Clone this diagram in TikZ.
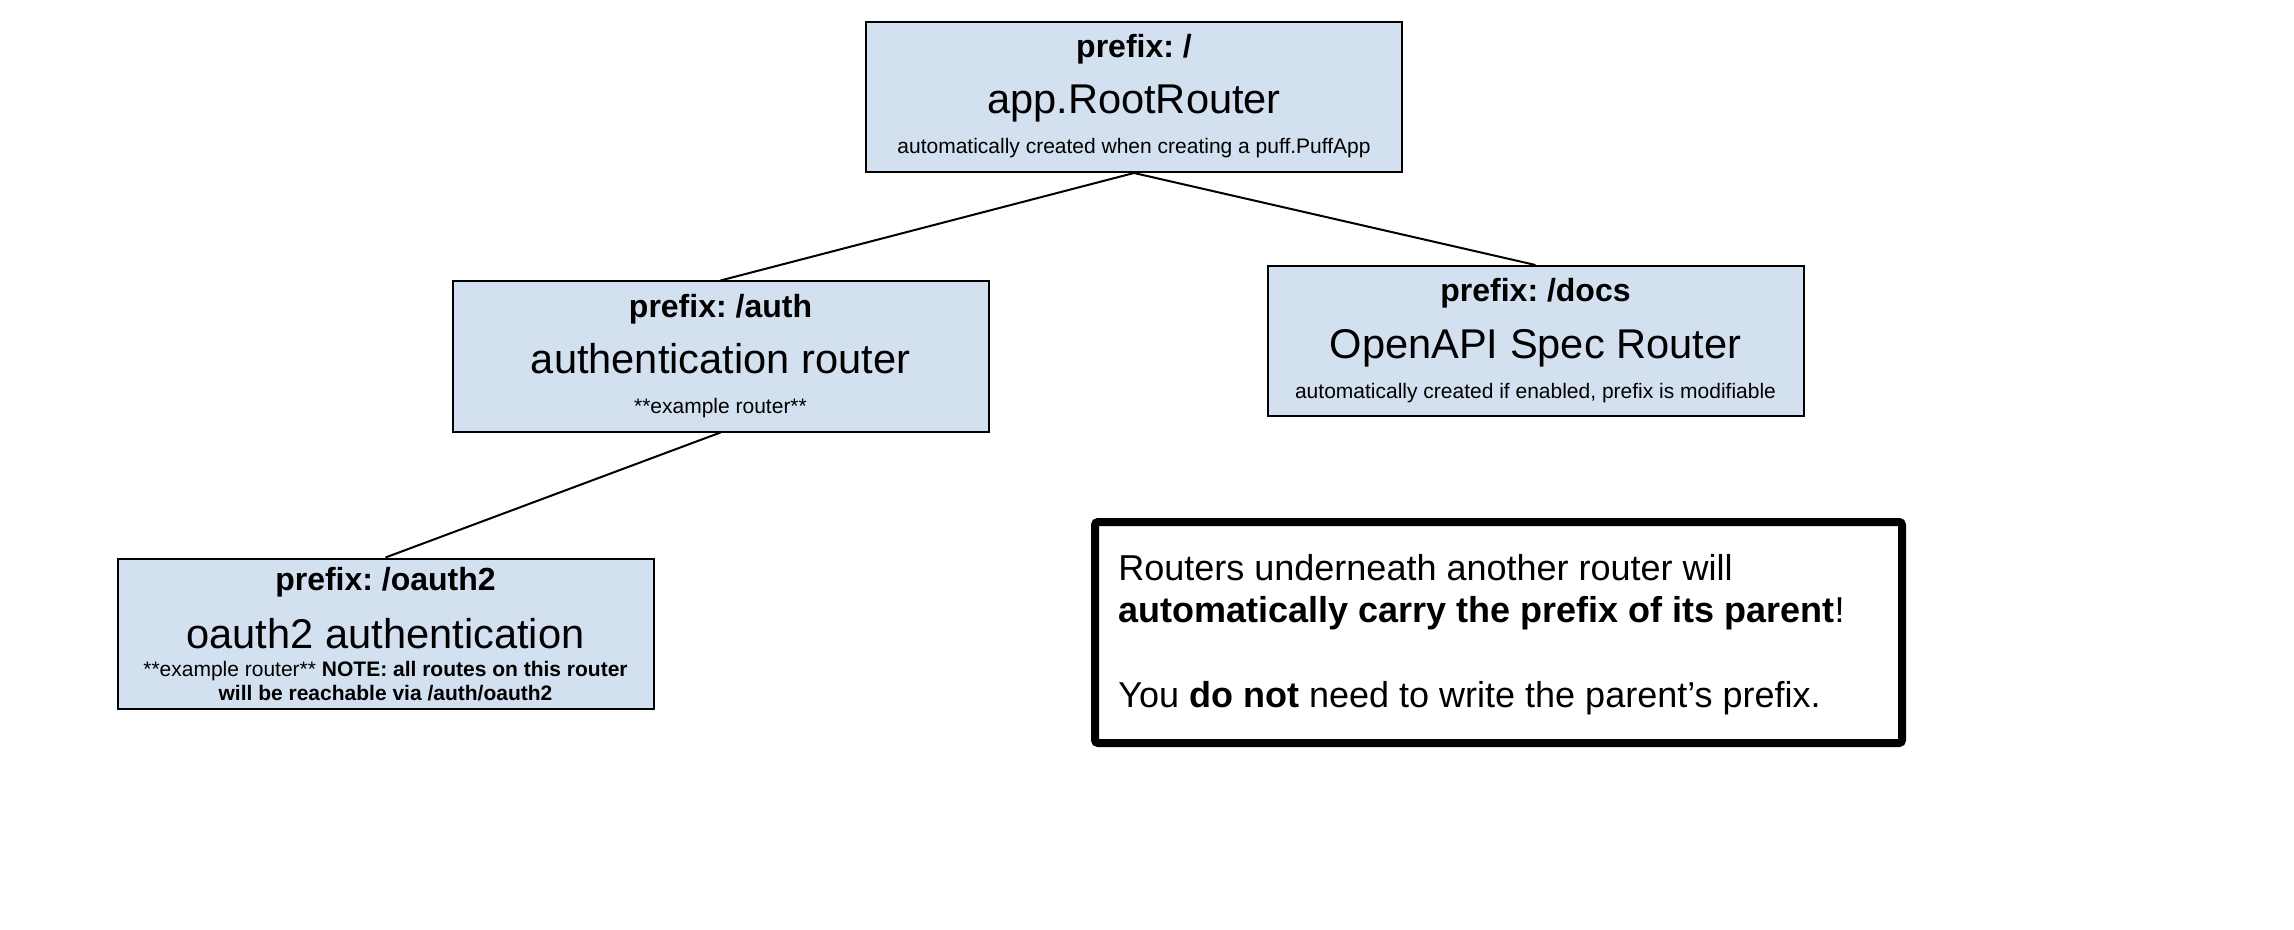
\documentclass[tikz,border=0pt]{standalone}
\usepackage{fontspec}
\setmainfont{Liberation Sans}
\usetikzlibrary{positioning}
\definecolor{routerblue}{RGB}{211,224,240}
\frenchspacing

\begin{document}
\begin{tikzpicture}[x=0.5pt, y=-0.5pt,
    router/.style={draw, line width=1pt, fill=routerblue, minimum width=268pt, minimum height=75pt, inner sep=0},
    prefixtext/.style={anchor=base, inner sep=0, font=\fontsize{16pt}{19pt}\selectfont\bfseries},
    nametext/.style={anchor=base, inner sep=0, font=\fontsize{20.8pt}{25pt}\selectfont},
    hinttext/.style={anchor=base, inner sep=0, font=\fontsize{10.5pt}{12.5pt}\selectfont},
    notebox/.style={draw, line width=4pt, rounded corners=1.5pt, minimum width=403.5pt, minimum height=110.5pt, inner sep=0},
    link/.style={line width=1pt}]
    \useasboundingbox (0,0) rectangle (2294,930);

    % router boxes
    \node[router] (root) at (1134,97) {};
    \node[router] (auth) at (720.5,356.5) {};
    \node[router] (docs) at (1535.5,341) {};
    \node[router] (oauth) at (385.5,633.5) {};

    \node[prefixtext] (rootpre) at ([yshift=-18.5pt]root.north) {prefix: /};
    \node[nametext] (rootname) at ([yshift=-46.5pt]root.north) {app.RootRouter};
    \node[hinttext] (roothint) at ([yshift=-66.5pt]root.north) {automatically created when creating a puff.PuffApp};

    \node[prefixtext] (authpre) at ([yshift=-18.5pt]auth.north) {prefix: /auth};
    \node[nametext] (authname) at ([yshift=-46.5pt]auth.north) {authentication router};
    \node[hinttext] (authhint) at ([yshift=-66.5pt]auth.north) {**example router**};

    \node[prefixtext] (docspre) at ([yshift=-18.5pt]docs.north) {prefix: /docs};
    \node[nametext] (docsname) at ([yshift=-46.5pt]docs.north) {OpenAPI Spec Router};
    \node[hinttext] (docshint) at ([yshift=-66.5pt]docs.north) {automatically created if enabled, prefix is modifiable};

    \node[prefixtext] (oauthpre) at ([yshift=-16.5pt]oauth.north) {prefix: /oauth2};
    \node[nametext] (oauthname) at ([yshift=-45.5pt]oauth.north) {oauth2 authentication};
    \node[hinttext] (oauthhint) at ([yshift=-59.5pt]oauth.north) {**example router** \textbf{NOTE: all routes on this router}};
    \node[hinttext, font=\fontsize{10.5pt}{12.5pt}\selectfont\bfseries] (oauthhintb) at ([yshift=-71.5pt]oauth.north) {will be reachable via /auth/oauth2};

    % tree links
    \draw[link] (root.south) -- (auth.north);
    \draw[link] (root.south) -- (docs.north);
    \draw[link] (auth.south) -- (oauth.north);

    % note
    \node[notebox] (note) at (1498.5,632.5) {};
    \node[anchor=north west, inner sep=0, align=left, font=\fontsize{18pt}{21.25pt}\selectfont] (notetext) at (1118,554)
        {Routers underneath another router will\\
         \textbf{automatically carry the prefix of its parent}!\\[21.25pt]
         You \textbf{do not} need to write the parent’s prefix.};
\end{tikzpicture}
\end{document}
